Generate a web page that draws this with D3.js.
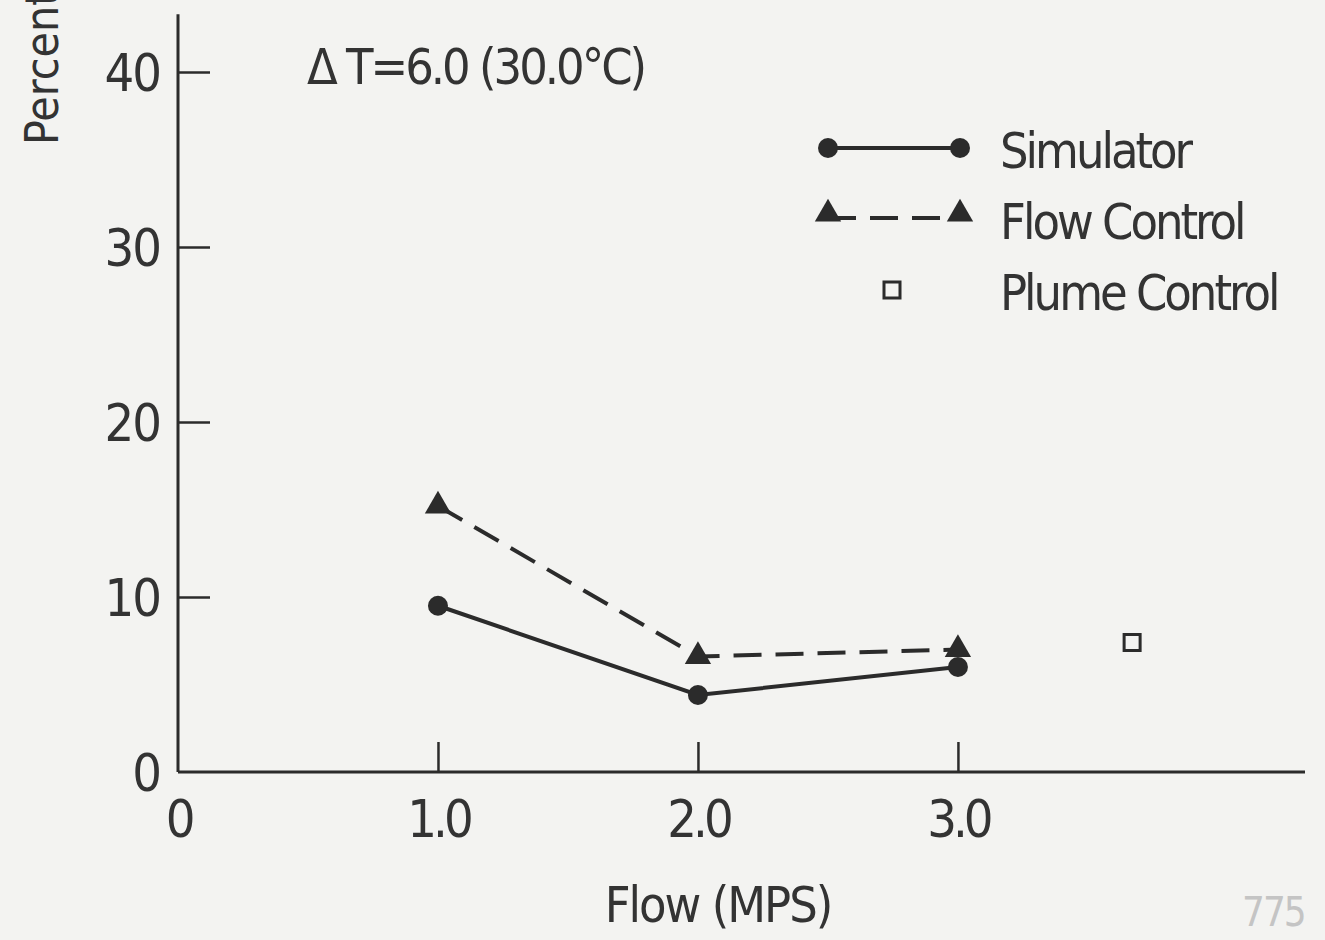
<!DOCTYPE html>
<html>
<head>
<meta charset="utf-8">
<script src="https://cdn.jsdelivr.net/npm/d3@7"></script>
<style>
  html, body { margin: 0; padding: 0; background: #f3f3f1; }
  svg { display: block; }
  text { font-family: "DejaVu Sans Condensed", "DejaVu Sans", sans-serif; fill: #333; }
</style>
</head>
<body>
<svg id="chart"></svg>
<script>
// data
const flows = [1.0, 2.0, 3.0];
const simulator = [9.5, 4.4, 6.0];
const flowControl = [15.2, 6.6, 7.0];
const plumeControl = [[3.67, 7.4]];
const yTicks = [0, 10, 20, 30, 40];
const xTicks = [0, 1, 2, 3];
const xTickLabels = ["0", "1.0", "2.0", "3.0"];

const width = 1325, height = 940;
const svg = d3.select("#chart").attr("width", width).attr("height", height);

const x = d3.scaleLinear().domain([0, 4.335]).range([178, 1305]);
const y = d3.scaleLinear().domain([0, 40]).range([772, 72]);
const ink = "#2b2b2b";

// y axis
const yAxis = svg.append("g")
    .attr("transform", `translate(${x(0)},0)`)
    .call(d3.axisLeft(y).tickValues(yTicks).tickSize(-32).tickPadding(18).tickFormat(d3.format("d")));
yAxis.select(".domain").remove();
yAxis.selectAll(".tick line").attr("stroke", ink).attr("stroke-width", 2.5);
yAxis.selectAll(".tick").filter(d => d === 0).select("line").remove();
yAxis.selectAll("text").attr("font-size", 52).attr("fill", "#333")
    .attr("dy", "0.36em").attr("letter-spacing", -2);
svg.append("line")
    .attr("x1", x(0)).attr("x2", x(0))
    .attr("y1", y(0)).attr("y2", y(43.3))
    .attr("stroke", ink).attr("stroke-width", 3);

// x axis
const xAxis = svg.append("g")
    .attr("transform", `translate(0,${y(0)})`)
    .call(d3.axisBottom(x).tickValues(xTicks).tickSize(-30).tickPadding(28)
        .tickFormat((d, i) => xTickLabels[i]));
xAxis.select(".domain").remove();
xAxis.selectAll(".tick line").attr("stroke", ink).attr("stroke-width", 2.5);
xAxis.selectAll(".tick").filter(d => d === 0).select("line").remove();
xAxis.selectAll("text").attr("font-size", 52).attr("fill", "#333").attr("letter-spacing", -4);
svg.append("line")
    .attr("x1", x(0)).attr("x2", x(4.335))
    .attr("y1", y(0)).attr("y2", y(0))
    .attr("stroke", ink).attr("stroke-width", 3);

// series
const line = d3.line().x(d => x(d[0])).y(d => y(d[1]));
const simData = flows.map((f, i) => [f, simulator[i]]);
const fcData = flows.map((f, i) => [f, flowControl[i]]);

svg.append("path").datum(fcData)
    .attr("d", line).attr("fill", "none").attr("stroke", ink)
    .attr("stroke-width", 4).attr("stroke-dasharray", "28,14");
svg.append("path").datum(simData)
    .attr("d", line).attr("fill", "none").attr("stroke", ink)
    .attr("stroke-width", 4);

const tri = d3.symbol().type(d3.symbolTriangle).size(300);
svg.selectAll(".fc").data(fcData).enter().append("path")
    .attr("transform", d => `translate(${x(d[0])},${y(d[1])})`)
    .attr("d", tri).attr("fill", ink);
svg.selectAll(".sim").data(simData).enter().append("circle")
    .attr("cx", d => x(d[0])).attr("cy", d => y(d[1])).attr("r", 10).attr("fill", ink);
svg.selectAll(".plume").data(plumeControl).enter().append("rect")
    .attr("x", d => x(d[0]) - 8).attr("y", d => y(d[1]) - 8)
    .attr("width", 16).attr("height", 16)
    .attr("fill", "none").attr("stroke", ink).attr("stroke-width", 3);

// legend
const lg = svg.append("g");
lg.append("line").attr("x1", 828).attr("x2", 960).attr("y1", 148).attr("y2", 148)
    .attr("stroke", ink).attr("stroke-width", 4);
[828, 960].forEach(cx => lg.append("circle").attr("cx", cx).attr("cy", 148).attr("r", 10).attr("fill", ink));
lg.append("line").attr("x1", 828).attr("x2", 960).attr("y1", 218).attr("y2", 218)
    .attr("stroke", ink).attr("stroke-width", 4).attr("stroke-dasharray", "28,14");
[828, 960].forEach(cx => lg.append("path").attr("transform", `translate(${cx},214)`).attr("d", tri).attr("fill", ink));
lg.append("rect").attr("x", 884).attr("y", 282).attr("width", 16).attr("height", 16)
    .attr("fill", "none").attr("stroke", ink).attr("stroke-width", 3);
const legendNames = ["Simulator", "Flow Control", "Plume Control"];
lg.selectAll(".lt").data(legendNames).enter().append("text")
    .attr("x", 1000).attr("y", (d, i) => 168 + i * 71)
    .attr("font-size", 50).attr("letter-spacing", -3)
    .text(d => d);

// annotation
svg.append("text").attr("x", 307).attr("y", 84).attr("font-size", 50)
    .attr("letter-spacing", -3)
    .text("\u0394 T=6.0 (30.0\u00B0C)");

// axis titles
svg.append("text")
    .attr("transform", "translate(58,145) rotate(-90)")
    .attr("font-size", 46)
    .text("Percent");
svg.append("text").attr("x", 718).attr("y", 922).attr("text-anchor", "middle")
    .attr("font-size", 50).attr("letter-spacing", -2).text("Flow (MPS)");

// page number in corner
svg.append("text").attr("x", 1242).attr("y", 926).attr("font-size", 40)
    .attr("letter-spacing", -2)
    .style("fill", "#c4c4c4").attr("font-weight", 200)
    .text("775");
</script>
</body>
</html>
